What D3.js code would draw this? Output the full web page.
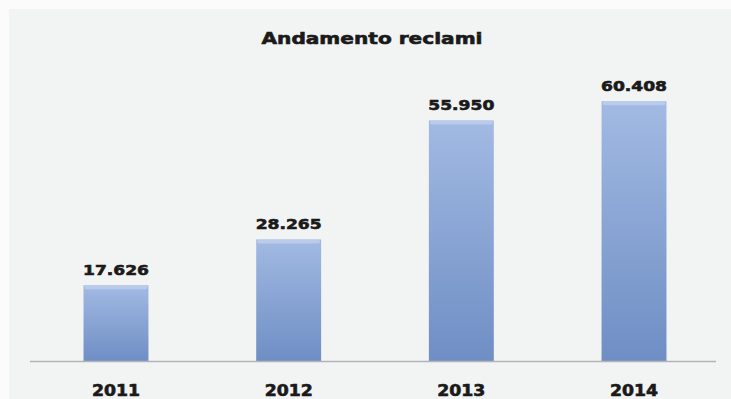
<!DOCTYPE html>
<html>
<head>
<meta charset="utf-8">
<script src="https://cdn.jsdelivr.net/npm/d3@7"></script>
<style>
  html, body { margin: 0; padding: 0; background: #fbfbfb; }
  svg { display: block; }
</style>
</head>
<body>
<svg id="chart" width="731" height="399"></svg>
<script>
// Complaints per year
const years = ["2011", "2012", "2013", "2014"];
const complaints = [17626, 28265, 55950, 60408];
const valueLabels = ["17.626", "28.265", "55.950", "60.408"];
const chartTitle = "Andamento reclami";

const W = 731, H = 399;
const svg = d3.select("#chart");

// panel background
svg.append("rect")
  .attr("x", 9).attr("y", 9).attr("width", W - 9).attr("height", H - 9)
  .attr("fill", "#f2f3f3");

const defs = svg.append("defs");
const grad = defs.append("linearGradient")
  .attr("id", "barFill").attr("x1", 0).attr("y1", 0).attr("x2", 0).attr("y2", 1);
grad.append("stop").attr("offset", "0%").attr("stop-color", "#a2bae3");
grad.append("stop").attr("offset", "100%").attr("stop-color", "#6f8ec4");

const x = d3.scaleBand()
  .domain(years)
  .range([30, 720])
  .paddingInner(0.624)
  .paddingOuter(0.31);

const y = d3.scaleLinear()
  .domain([0, 70000])
  .range([361, 60]);

const data = years.map((yr, i) => ({ year: yr, value: complaints[i], label: valueLabels[i] }));

// bars
const bars = svg.append("g");
bars.selectAll("rect.bar")
  .data(data)
  .join("rect")
  .attr("class", "bar")
  .attr("x", d => x(d.year))
  .attr("y", d => y(d.value))
  .attr("width", x.bandwidth())
  .attr("height", d => y(0) - y(d.value))
  .attr("fill", "url(#barFill)");

// soft highlight along each bar top
bars.selectAll("rect.cap")
  .data(data)
  .join("rect")
  .attr("class", "cap")
  .attr("x", d => x(d.year) + 1)
  .attr("y", d => y(d.value))
  .attr("width", x.bandwidth() - 2)
  .attr("height", 4)
  .attr("rx", 2)
  .attr("fill", "#c0d0ec")
  .attr("opacity", 0.8);

// baseline axis
svg.append("line")
  .attr("x1", 30).attr("x2", 716)
  .attr("y1", y(0) + 0.5).attr("y2", y(0) + 0.5)
  .attr("stroke", "#b4b4b6").attr("stroke-width", 1.5);

const font = "'DejaVu Sans', Verdana, sans-serif";
const ink = "#1a1a1a";

// value labels
svg.append("g").selectAll("text")
  .data(data)
  .join("text")
  .attr("x", d => x(d.year) + x.bandwidth() / 2)
  .attr("y", d => y(d.value) - 10)
  .attr("text-anchor", "middle")
  .attr("font-family", font)
  .attr("font-weight", "bold")
  .attr("font-size", 14)
  .attr("fill", ink)
  .attr("stroke", ink).attr("stroke-width", 0.6)
  .attr("textLength", 66)
  .attr("lengthAdjust", "spacingAndGlyphs")
  .text(d => d.label);

// year labels
svg.append("g").selectAll("text")
  .data(data)
  .join("text")
  .attr("x", d => x(d.year) + x.bandwidth() / 2)
  .attr("y", 396)
  .attr("text-anchor", "middle")
  .attr("font-family", font)
  .attr("font-weight", "bold")
  .attr("font-size", 15)
  .attr("fill", ink)
  .attr("stroke", ink).attr("stroke-width", 0.6)
  .attr("textLength", 48)
  .attr("lengthAdjust", "spacingAndGlyphs")
  .text(d => d.year);

// title
svg.append("text")
  .attr("x", 372)
  .attr("y", 44)
  .attr("text-anchor", "middle")
  .attr("font-family", font)
  .attr("font-weight", "bold")
  .attr("font-size", 16)
  .attr("fill", ink)
  .attr("stroke", ink).attr("stroke-width", 0.6)
  .attr("textLength", 221)
  .attr("lengthAdjust", "spacingAndGlyphs")
  .text(chartTitle);
</script>
</body>
</html>
